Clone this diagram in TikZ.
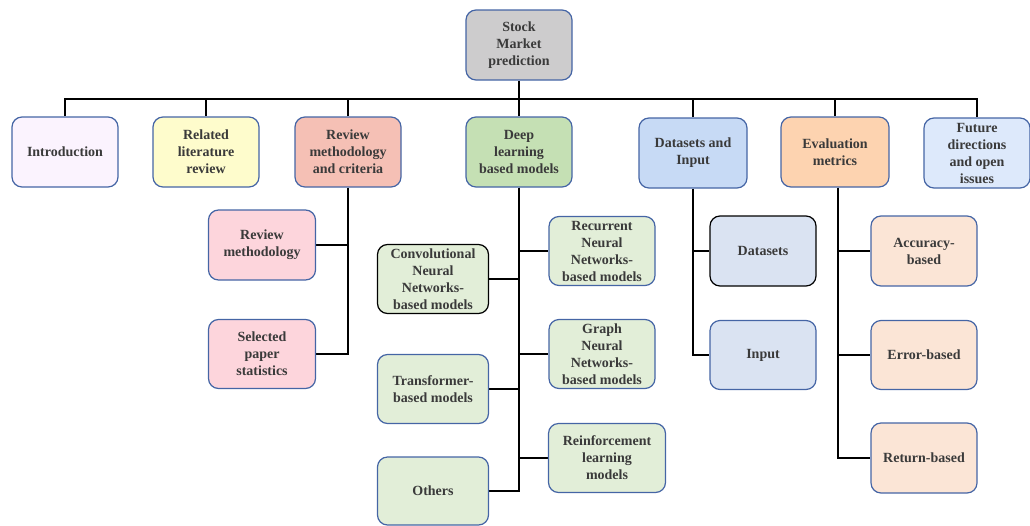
\documentclass[tikz,border=0pt]{standalone}
\usepackage{fontspec}
\setmainfont{Liberation Serif}
\usepackage{tikz}
\usetikzlibrary{calc,backgrounds}
\definecolor{edgeblue}{HTML}{4565A5}
\definecolor{txtgray}{HTML}{3A3A3A}
\definecolor{rootfill}{HTML}{CDCCCD}
\definecolor{introfill}{HTML}{FBF3FE}
\definecolor{relfill}{HTML}{FEFCCC}
\definecolor{revfill}{HTML}{F5C0B5}
\definecolor{dlfill}{HTML}{C5E0B4}
\definecolor{datafill}{HTML}{C7DAF5}
\definecolor{evalfill}{HTML}{FDD3B0}
\definecolor{futfill}{HTML}{DDE9FB}
\definecolor{revsub}{HTML}{FDD5DC}
\definecolor{dlsub}{HTML}{E2EED8}
\definecolor{datasub}{HTML}{DAE3F2}
\definecolor{evalsub}{HTML}{FBE5D6}
\newcommand{\boxw}{106}
\newcommand{\boxh}{70}
\tikzset{
  box/.style={draw=edgeblue, line width=1.2pt, rounded corners=10pt,
    minimum width=\boxw pt, minimum height=\boxh pt, inner sep=0pt,
    align=center, text=txtgray,
    font=\fontsize{14}{17}\selectfont\bfseries},
  link/.style={draw=black, line width=1.5pt}
}

\begin{document}
\begin{tikzpicture}[x=1pt, y=-1pt]
\useasboundingbox (0,0) rectangle (1030,525);
%top
\node[box, fill=rootfill] (root) at (519, 45) {Stock\\Market\\prediction};
\coordinate (bus) at (519, 99);
%first level
\node[box, fill=introfill] (intro) at (65, 152) {Introduction};
\node[box, fill=relfill] (related) at (206, 152) {Related\\literature\\review};
\node[box, fill=revfill] (review) at (348, 152) {Review\\methodology\\and criteria};
\node[box, fill=dlfill] (deep) at (519, 152) {Deep\\learning\\based models};
\node[box, fill=datafill, minimum width=108pt] (data) at (693, 153) {Datasets and\\Input};
\node[box, fill=evalfill, minimum width=108pt] (eval) at (835, 152) {Evaluation\\metrics};
\node[box, fill=futfill] (future) at (977, 153) {Future\\directions\\and open\\issues};
%review
\node[box, fill=revsub, minimum width=107pt] (revmeth) at (262, 245) {Review\\methodology};
\node[box, fill=revsub, minimum width=107pt, minimum height=69pt] (selstat) at (262, 354) {Selected\\paper\\statistics};
%deep learning
\node[box, fill=dlsub, draw=black, minimum width=111pt, minimum height=69pt] (cnn) at (433, 279) {Convolutional\\Neural\\Networks-\\based models};
\node[box, fill=dlsub, minimum height=69pt] (rnn) at (602, 251) {Recurrent\\Neural\\Networks-\\based models};
\node[box, fill=dlsub, minimum height=69pt] (gnn) at (602, 354) {Graph\\Neural\\Networks-\\based models};
\node[box, fill=dlsub, minimum width=111pt, minimum height=69pt] (trans) at (433, 389) {Transformer-\\based models};
\node[box, fill=dlsub, minimum width=117pt, minimum height=69pt] (rl) at (607, 458) {Reinforcement\\learning\\models};
\node[box, fill=dlsub, minimum width=111pt, minimum height=68pt] (others) at (433, 491) {Others};
%datasets
\node[box, fill=datasub, draw=black] (dsets) at (763, 251) {Datasets};
\node[box, fill=datasub, minimum height=69pt] (input) at (763, 355) {Input};
%evaluation
\node[box, fill=evalsub] (acc) at (924, 251) {Accuracy-\\based};
\node[box, fill=evalsub, minimum height=69pt] (err) at (924, 355) {Error-based};
\node[box, fill=evalsub] (ret) at (924, 458) {Return-based};
%links
\begin{scope}[on background layer]
\draw[link] (root.south) -- (bus);
\draw[link] (intro.north) |- (bus);
\draw[link] (related.north) |- (bus);
\draw[link] (review.north) |- (bus);
\draw[link] (deep.north) |- (bus);
\draw[link] (data.north) |- (bus);
\draw[link] (eval.north) |- (bus);
\draw[link] (future.north) |- (bus);
\draw[link] (review.south) |- (revmeth.east);
\draw[link] (review.south) |- (selstat.east);
\draw[link] (deep.south) |- (cnn.east);
\draw[link] (deep.south) |- (rnn.west);
\draw[link] (deep.south) |- (gnn.west);
\draw[link] (deep.south) |- (trans.east);
\draw[link] (deep.south) |- (rl.west);
\draw[link] (deep.south) |- (others.east);
\draw[link] (data.south) |- (dsets.west);
\draw[link] (data.south) |- (input.west);
\draw[link] ($(eval.south)+(3,0)$) |- (acc.west);
\draw[link] ($(eval.south)+(3,0)$) |- (err.west);
\draw[link] ($(eval.south)+(3,0)$) |- (ret.west);
\end{scope}
\end{tikzpicture}
\end{document}
